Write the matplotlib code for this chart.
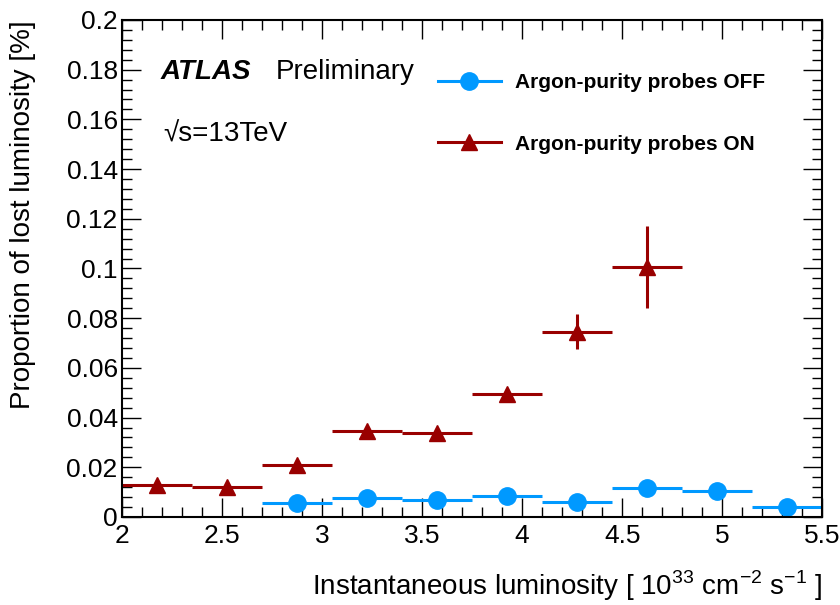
import matplotlib
matplotlib.use("Agg")
import matplotlib.pyplot as plt
from matplotlib.lines import Line2D
from matplotlib.ticker import MultipleLocator

plt.rcParams['font.family'] = ['Liberation Sans', 'DejaVu Sans']
plt.rcParams['mathtext.fontset'] = 'custom'
plt.rcParams['mathtext.rm'] = 'Liberation Sans'
plt.rcParams['axes.unicode_minus'] = False

# bin edges in 10^33 cm^-2 s^-1
bin_edges = [2.0, 2.35, 2.7, 3.05, 3.4, 3.75, 4.1, 4.45, 4.8, 5.15, 5.5]

# probes OFF (bins 3..10)
off_centres = [2.875, 3.225, 3.575, 3.925, 4.275, 4.625, 4.975, 5.325]
off_values = [0.0055, 0.0076, 0.0068, 0.0084, 0.0059, 0.0117, 0.0105, 0.0042]
off_errors = [0.0004, 0.0004, 0.0004, 0.0005, 0.0005, 0.0008, 0.0008, 0.0008]

# probes ON (bins 1..8)
on_centres = [2.175, 2.525, 2.875, 3.225, 3.575, 3.925, 4.275, 4.625]
on_values = [0.0130, 0.0121, 0.0209, 0.0346, 0.0337, 0.0496, 0.0745, 0.1005]
on_errors = [0.0008, 0.0008, 0.0010, 0.0012, 0.0012, 0.0020, 0.0070, 0.0165]

x_ticks = [2, 2.5, 3, 3.5, 4, 4.5, 5, 5.5]
x_labels = ['2', '2.5', '3', '3.5', '4', '4.5', '5', '5.5']
y_ticks = [0, 0.02, 0.04, 0.06, 0.08, 0.1, 0.12, 0.14, 0.16, 0.18, 0.2]
y_labels = ['0', '0.02', '0.04', '0.06', '0.08', '0.1', '0.12',
            '0.14', '0.16', '0.18', '0.2']

half_width = 0.175
blue = '#0099ff'
red = '#990000'

fig = plt.figure(figsize=(8.4, 6.05), dpi=100)
ax = fig.add_axes([0.145, 0.1455, 0.834, 0.8215])

ax.errorbar(off_centres, off_values, xerr=half_width, yerr=off_errors,
            fmt='o', color=blue, ms=12.5, elinewidth=2.2, capsize=0)
ax.errorbar(on_centres, on_values, xerr=half_width, yerr=on_errors,
            fmt='^', color=red, ms=12, elinewidth=2.2, capsize=0)

ax.set_xlim(2, 5.5)
ax.set_ylim(0, 0.2)
ax.set_xticks(x_ticks)
ax.set_xticklabels(x_labels)
ax.set_yticks(y_ticks)
ax.set_yticklabels(y_labels)
ax.xaxis.set_minor_locator(MultipleLocator(0.1))
ax.yaxis.set_minor_locator(MultipleLocator(0.004))
ax.tick_params(which='both', direction='in', top=True, right=True,
               labelsize=19, width=1.0)
ax.tick_params(which='major', length=14)
ax.tick_params(axis='y', which='major', pad=3)
ax.tick_params(axis='x', which='major', pad=5)
ax.tick_params(which='minor', length=7)
for s in ax.spines.values():
    s.set_linewidth(1.5)

ax.set_ylabel('Proportion of lost luminosity [%]', fontsize=20, loc='top',
              labelpad=22)
ax.set_xlabel(r'Instantaneous luminosity [ $10^{33}$ cm$^{-2}$ s$^{-1}$ ]',
              fontsize=20, loc='right', labelpad=15)

fig.text(161 / 840, 1 - 72 / 605, 'ATLAS', fontsize=20, fontweight='bold',
         fontstyle='italic', va='center')
fig.text(276 / 840, 1 - 72 / 605, 'Preliminary', fontsize=20, va='center')
fig.text(163 / 840, 1 - 135 / 605, '\u221as=13TeV', fontsize=20,
         va='center')

handles = [
    Line2D([], [], color=blue, marker='o', ms=12.5, lw=2.2),
    Line2D([], [], color=red, marker='^', ms=12, lw=2.2),
]
labels = ['Argon-purity probes OFF', 'Argon-purity probes ON']
fig.legend(handles, labels, loc='upper left',
           bbox_to_anchor=(438 / 840, 1 - 73 / 605), frameon=False,
           prop={'weight': 'bold', 'size': 15}, handlelength=3.0,
           labelspacing=2.05, handletextpad=0.7, borderpad=0,
           borderaxespad=0)

fig.savefig('out.png', dpi=100)
